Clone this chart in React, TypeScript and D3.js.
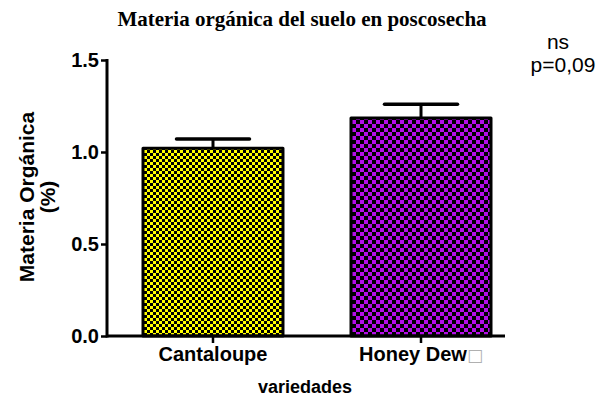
import React, { useEffect, useRef } from 'react';
import * as d3 from 'd3';

const categories = ['Cantaloupe', 'Honey Dew'];
const means = [1.02, 1.185];
const errors = [0.05, 0.075];
const yTicks = [0, 0.5, 1.0, 1.5];
const colors = ['#ffff00', '#b40ee8'];
const cellSizes = [3, 4];

export default function App() {
  const ref = useRef<SVGSVGElement>(null);

  useEffect(() => {
    const svg = d3.select(ref.current);
    svg.selectAll('*').remove();

    const left = 107;
    const right = 505;
    const top = 60;
    const bottom = 336;
    const sans = 'Liberation Sans, Arial, sans-serif';

    const defs = svg.append('defs');
    colors.forEach((c, i) => {
      const s = cellSizes[i];
      const p = defs
        .append('pattern')
        .attr('id', `chk${i}`)
        .attr('patternUnits', 'userSpaceOnUse')
        .attr('width', s * 2)
        .attr('height', s * 2);
      p.append('rect').attr('width', s * 2).attr('height', s * 2).attr('fill', '#000');
      p.append('rect').attr('width', s).attr('height', s).attr('fill', c);
      p.append('rect').attr('x', s).attr('y', s).attr('width', s).attr('height', s).attr('fill', c);
    });

    const x = d3
      .scaleBand()
      .domain(categories)
      .range([143, 491])
      .paddingInner(0.327)
      .paddingOuter(0);
    const y = d3.scaleLinear().domain([0, 1.5]).range([bottom, top]);

    const g = svg.append('g');

    // bars
    g.selectAll('.bar')
      .data(categories)
      .join('rect')
      .attr('class', 'bar')
      .attr('x', d => x(d)!)
      .attr('width', x.bandwidth())
      .attr('y', (d, i) => y(means[i]))
      .attr('height', (d, i) => bottom - y(means[i]))
      .attr('fill', (d, i) => `url(#chk${i})`)
      .attr('stroke', '#000')
      .attr('stroke-width', 3)
      .attr('stroke-linejoin', 'round');

    // error bars
    const capW = 73;
    categories.forEach((c, i) => {
      const cx = x(c)! + x.bandwidth() / 2;
      g.append('line')
        .attr('x1', cx).attr('x2', cx)
        .attr('y1', y(means[i])).attr('y2', y(means[i] + errors[i]))
        .attr('stroke', '#000').attr('stroke-width', 3);
      g.append('line')
        .attr('x1', cx - capW / 2).attr('x2', cx + capW / 2)
        .attr('y1', y(means[i] + errors[i])).attr('y2', y(means[i] + errors[i]))
        .attr('stroke', '#000').attr('stroke-width', 3.5).attr('stroke-linecap', 'round');
    });

    // y axis
    const yAxis = g
      .append('g')
      .attr('transform', `translate(${left},0)`)
      .call(d3.axisLeft(y).tickValues(yTicks).tickFormat(d3.format('.1f')).tickSize(6).tickPadding(2));
    yAxis.select('.domain').attr('d', `M0,${top - 1}V${bottom + 1.5}`).attr('stroke-width', 3);
    yAxis.selectAll('.tick line').attr('stroke-width', 2.5);
    yAxis
      .selectAll('.tick text')
      .attr('font-family', sans)
      .attr('font-weight', 'bold')
      .attr('font-size', 20)
      .attr('fill', '#000');

    // x axis
    const xAxis = g
      .append('g')
      .attr('transform', `translate(0,${bottom})`)
      .call(d3.axisBottom(x).tickSize(7).tickPadding(4));
    xAxis.select('.domain').attr('d', `M${left},0H${right}`).attr('stroke-width', 3);
    xAxis.selectAll('.tick line').attr('stroke-width', 2.5);
    xAxis
      .selectAll('.tick text')
      .attr('font-family', sans)
      .attr('font-weight', 'bold')
      .attr('font-size', 20)
      .attr('fill', '#000')
      .each(function (d) {
        if (d === 'Honey Dew') {
          const t = d3.select(this);
          t.text('Honey Dew');
          t.append('tspan')
            .attr('font-weight', 'normal')
            .attr('fill', '#b0b0b0')
            .attr('font-family', 'DejaVu Sans')
            .attr('font-size', 17)
            .text('\u25A1');
        }
      });

    // title
    svg.append('text')
      .attr('x', 302).attr('y', 26)
      .attr('text-anchor', 'middle')
      .attr('font-family', 'Liberation Serif, Times New Roman, serif')
      .attr('font-weight', 'bold')
      .attr('font-size', 21)
      .text('Materia orgánica del suelo en poscosecha');

    // axis titles
    const yl = svg.append('text')
      .attr('transform', 'translate(40,197) rotate(-90)')
      .attr('text-anchor', 'middle')
      .attr('font-family', sans)
      .attr('font-weight', 'bold')
      .attr('font-size', 21);
    yl.append('tspan').attr('x', 0).attr('dy', -6).text('Materia Orgánica');
    yl.append('tspan').attr('x', 0).attr('dy', 21).text('(%)');

    svg.append('text')
      .attr('x', 305).attr('y', 393)
      .attr('text-anchor', 'middle')
      .attr('font-family', sans)
      .attr('font-weight', 'bold')
      .attr('font-size', 18)
      .text('variedades');

    // significance note
    const note = svg.append('text')
      .attr('text-anchor', 'middle')
      .attr('font-family', sans)
      .attr('font-size', 21);
    note.append('tspan').attr('x', 558).attr('y', 49).text('ns');
    note.append('tspan').attr('x', 563).attr('y', 72).text('p=0,09');
  }, []);

  return (
    <svg
      ref={ref}
      width={607}
      height={404}
      style={{ position: 'absolute', left: 0, top: 0, background: '#fff' }}
    />
  );
}
